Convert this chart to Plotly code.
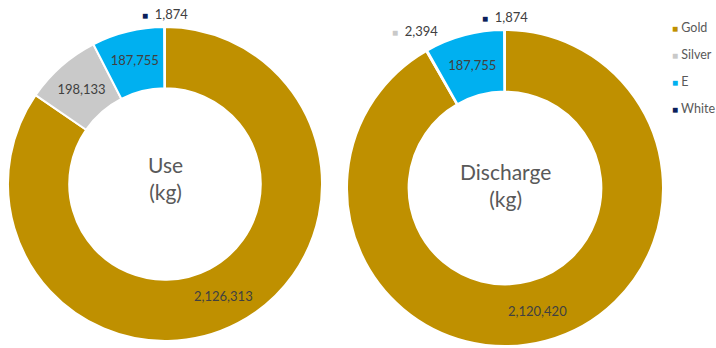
import math
import plotly.graph_objects as go

# Mass balance by category, kg
categories = ["Gold", "Silver", "E", "White"]
use_kg = [2126313, 198133, 187755, 1874]
discharge_kg = [2120420, 2394, 187755, 1874]

colors = ["#BF9000", "#C9C9C9", "#00B0F0", "#0B1F5C"]
text_color = "#404040"
title_color = "#595959"
font_family = "Lato, 'Noto Sans', sans-serif"

W, H = 716, 348
HOLE = 0.61

# Pixel boxes (left, top, right, bottom) that each donut occupies
use_box = (8, 27, 322, 341)
discharge_box = (347, 30, 663, 346)


def box_domain(box):
    l, t, r, b = box
    return dict(x=[l / W, r / W], y=[1 - b / H, 1 - t / H])


def box_geometry(box):
    l, t, r, b = box
    return (l + r) / 2, (t + b) / 2, min(r - l, b - t) / 2


def key(c, size=10):
    """Small coloured square used as a key in front of a label."""
    return f"<span style='color:{c};font-size:{size}px'>■</span>"


def donut(values, label_mode, domain):
    # label_mode per slice: "inside" -> drawn by the pie itself,
    # anything else -> drawn as an annotation (see slice_annotations)
    return go.Pie(
        labels=categories,
        values=values,
        sort=False,
        direction="clockwise",
        rotation=0,
        hole=HOLE,
        domain=domain,
        marker=dict(colors=colors, line=dict(color="white", width=2)),
        text=[f"{v:,}" if m == "inside" else "" for v, m in zip(values, label_mode)],
        textinfo="text",
        textposition=["inside" if m == "inside" else "none" for m in label_mode],
        insidetextorientation="horizontal",
        textfont=dict(family=font_family, size=13, color=text_color),
        showlegend=False,
        automargin=False,
    )


def slice_annotations(values, label_mode, box, title, title_dy):
    """Labels for the large ring slice (mid ring) and the thin slices (outside)."""
    cx, cy, R = box_geometry(box)
    total = sum(values)
    anns = []
    cum = 0
    for v, c, m in zip(values, colors, label_mode):
        mid = (cum + v / 2) / total * 2 * math.pi  # clockwise from 12 o'clock
        cum += v
        s, co = math.sin(mid), math.cos(mid)
        if m == "ring":
            r = R * (1 + HOLE) / 2
            text = f"{v:,}"
        elif m == "outside":
            tw, th = 46, 15
            r = R + 5 + abs(s) * tw / 2 + abs(co) * th / 2
            text = f"{key(c)}  {v:,}"
        else:
            continue
        px, py = cx + r * s, cy - r * co
        anns.append(dict(
            x=px / W, y=1 - py / H, xref="paper", yref="paper",
            xanchor="center", yanchor="middle", showarrow=False, text=text,
            font=dict(family=font_family, size=13, color=text_color),
        ))
    anns.append(dict(
        x=cx / W, y=1 - (cy + title_dy) / H, xref="paper", yref="paper",
        xanchor="center", yanchor="middle", showarrow=False, text=title,
        font=dict(family=font_family, size=21, color=title_color),
    ))
    return anns


use_modes = ["ring", "inside", "inside", "outside"]
discharge_modes = ["ring", "outside", "inside", "outside"]

fig = go.Figure()
fig.add_trace(donut(use_kg, use_modes, box_domain(use_box)))
fig.add_trace(donut(discharge_kg, discharge_modes, box_domain(discharge_box)))

# Legend entries: the coloured key sits right next to the category name,
# so the legend's own symbol is drawn as a zero-width line
for name, c in zip(categories, colors):
    fig.add_trace(go.Scatter(
        x=[None], y=[None], mode="lines", name=f"{key(c)} {name}",
        legendgroup=name, line=dict(width=0, color="rgba(0,0,0,0)"),
    ))

annotations = (
    slice_annotations(use_kg, use_modes, use_box, "Use<br>(kg)", -6)
    + slice_annotations(discharge_kg, discharge_modes, discharge_box, "Discharge<br>(kg)", -3)
)

fig.update_layout(
    width=W,
    height=H,
    margin=dict(l=0, r=0, t=0, b=0, autoexpand=False),
    paper_bgcolor="white",
    plot_bgcolor="white",
    xaxis=dict(visible=False),
    yaxis=dict(visible=False),
    annotations=annotations,
    legend=dict(
        x=632 / W, y=1 - 12 / H, xanchor="left", yanchor="top",
        font=dict(family=font_family, size=12.5, color=title_color),
        tracegroupgap=8,
        bgcolor="rgba(0,0,0,0)",
    ),
)

fig.write_html("out.html")
